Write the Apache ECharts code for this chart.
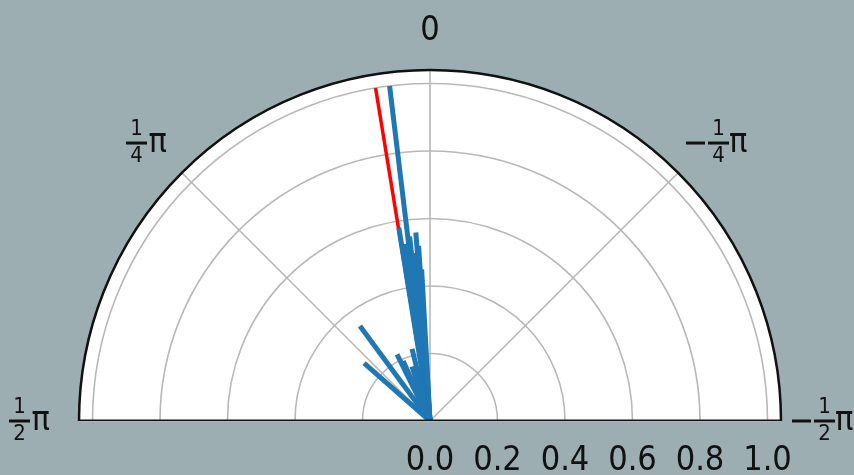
<!DOCTYPE html>
<html>
<head>
<meta charset="utf-8">
<script src="https://cdn.jsdelivr.net/npm/echarts@6/dist/echarts.min.js"></script>
<style>
html,body{margin:0;padding:0;background:#9daeb3;}
#chart{width:854px;height:475px;}
</style>
</head>
<body>
<div id="chart"></div>
<script>
// Vector directions (radians, 0 = up, positive = counter-clockwise) and lengths
const blueTheta = [0.12, 0.16, 0.135, 0.11, 0.075, 0.09, 0.065, 0.055, 0.635, 0.85, 0.46, 0.42, 0.245, 0.32];
const blueR     = [1.0,  0.58, 0.53,  0.55, 0.56,  0.50, 0.52,  0.45,  0.35,  0.26, 0.22, 0.195, 0.22, 0.17];
const redTheta  = [0.162];
const redR      = [1.0];
const radiusTicks = [0, 0.2, 0.4, 0.6, 0.8, 1.0];
const rMax = 1.04;

const CX = 430, CY = 421, RADIUS = 351;
const FONT = "'DejaVu Sans Condensed', 'DejaVu Sans', sans-serif";
const toDeg = t => t * 180 / Math.PI;

function fracLabel(den, neg, tail) {
  const s = neg ? '{sp| }' : '';
  const m = neg ? '{mb| }{g| }' : '';
  const t = tail ? '{' + tail + '| }' : '';
  return s + '{n|1}{e| }' + t + '\n' + m + '{b| }{p|π}' + t + '\n' + s + '{n|' + den + '}{e| }' + t;
}

function angleLabel(v) {
  if (v === 0) return '{z|0}';
  if (v === 45) return fracLabel(4, false, 't7');
  if (v === -45) return fracLabel(4, true, '');
  if (v === 90) return fracLabel(2, false, 't18');
  if (v === -90) return fracLabel(2, true, '');
  return '';
}

const series = [];
function addVec(theta, r, color, width) {
  series.push({
    type: 'line', coordinateSystem: 'polar', symbol: 'none', silent: true,
    lineStyle: { color: color, width: width },
    data: [[0, 0], [r, toDeg(theta)]],
    z: 3
  });
}
redTheta.forEach((t, i) => addVec(t, redR[i], '#ff0000', 3.5));
blueTheta.forEach((t, i) => addVec(t, blueR[i], '#1f77b4', 5));
// frame: straight bottom edge of the half-polar area
series.push({
  type: 'line', coordinateSystem: 'polar', symbol: 'none', silent: true,
  lineStyle: { color: '#111', width: 3 },
  data: [[rMax, 90], [0, 0], [rMax, -90]],
  z: 5
});

const chart = echarts.init(document.getElementById('chart'), null, { renderer: 'canvas' });
chart.setOption({
  backgroundColor: '#9daeb3',
  animation: false,
  graphic: [{
    type: 'sector', silent: true, z: -10,
    shape: { cx: CX, cy: CY, r: RADIUS, startAngle: Math.PI, endAngle: 2 * Math.PI },
    style: { fill: '#ffffff' }
  }],
  polar: { center: [CX, CY], radius: RADIUS },
  angleAxis: {
    type: 'value', min: -90, max: 90, interval: 45,
    startAngle: 0, endAngle: 180, clockwise: false,
    axisLine: { show: true, lineStyle: { color: '#111', width: 2.5 } },
    axisTick: { show: false },
    splitLine: { show: true, lineStyle: { color: '#b8b8b8', width: 1.6 } },
    splitArea: { show: false },
    axisLabel: {
      margin: 11, color: '#111', fontFamily: FONT,
      formatter: angleLabel,
      rich: {
        z: { fontSize: 34, fontFamily: FONT, color: '#111', padding: [0, 0, 11, 0] },
        n: { fontSize: 22, width: 21, align: 'center', lineHeight: 17, verticalAlign: 'middle', fontFamily: FONT, color: '#111' },
        e: { fontSize: 10, width: 20, lineHeight: 17 },
        b: { fontSize: 4, width: 21, height: 3, lineHeight: 10, backgroundColor: '#111', verticalAlign: 'middle' },
        p: { fontSize: 34, width: 20, lineHeight: 10, verticalAlign: 'middle', fontFamily: FONT, color: '#111' },
        sp: { fontSize: 10, width: 22, lineHeight: 17 },
        mb: { fontSize: 4, width: 19, height: 3, lineHeight: 10, backgroundColor: '#111', verticalAlign: 'middle' },
        g: { fontSize: 4, width: 3, lineHeight: 10 },
        t7: { fontSize: 4, width: 7, lineHeight: 10 },
        t18: { fontSize: 4, width: 18, lineHeight: 10 }
      }
    }
  },
  radiusAxis: {
    type: 'value', min: 0, max: rMax, interval: 0.2,
    axisLine: { show: false },
    axisTick: { show: false },
    splitLine: { show: true, lineStyle: { color: '#b8b8b8', width: 1.6 } },
    splitArea: { show: false },
    axisLabel: {
      margin: -23, verticalAlign: 'top', align: 'center', fontSize: 34, fontFamily: FONT, color: '#111',
      formatter: v => radiusTicks.some(t => Math.abs(t - v) < 1e-6) ? v.toFixed(1) : ''
    }
  },
  series: series
});
</script>
</body>
</html>
